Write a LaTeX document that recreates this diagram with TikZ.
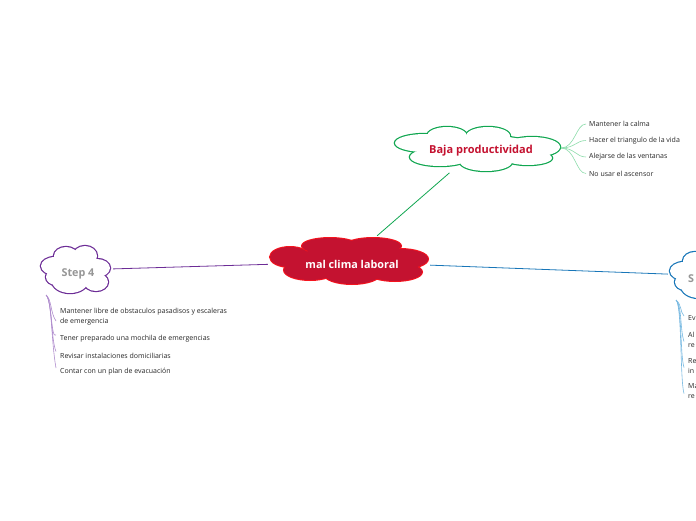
\documentclass[tikz,border=0pt]{standalone}
\usepackage{fontspec}
\setmainfont{Open Sans}
\definecolor{cred}{RGB}{196,18,48}
\definecolor{credb}{RGB}{245,20,30}
\definecolor{cgreen}{RGB}{16,166,80}
\definecolor{lgreen}{RGB}{140,220,170}
\definecolor{cpurple}{RGB}{108,44,150}
\definecolor{lpurple}{RGB}{175,140,205}
\definecolor{cblue}{RGB}{24,118,184}
\definecolor{lblue}{RGB}{120,185,225}
\definecolor{cgray}{RGB}{150,150,150}
\newcommand\mkcloud[4]{%
  \foreach \cx/\cy/\ca/\cb in {#4}
    \draw[#1, line width=#3] (\cx,\cy) ellipse [x radius=\ca, y radius=\cb];
  \foreach \cx/\cy/\ca/\cb in {#4}
    \fill[#2] (\cx,\cy) ellipse [x radius=\ca, y radius=\cb];
}
\tikzset{
  item/.style={anchor=west, inner sep=0pt, font=\fontsize{7}{10}\selectfont, align=left, text=black!85},
  sub/.style={line width=0.6pt},
  title/.style={inner sep=0pt, font=\fontsize{10.8}{12}\selectfont\bfseries},
  hub/.style={inner sep=0pt, minimum size=0pt},
  main/.style={line width=0.8pt}
}
\begin{document}
\begin{tikzpicture}[x=1pt,y=-1pt]
\useasboundingbox (0,0) rectangle (696,520);
% central cloud
\mkcloud{credb}{cred}{2pt}{290/257/20/10, 330/246/28/8, 373/246/28/8, 400/259/28/10, 395/272/27/9, 352/274/28/10, 310/270/26/10, 350/262/60/15}
% green cloud
\mkcloud{cgreen}{white}{2.4pt}{425/143/30/9, 447/136/20/9, 488/136/22/9, 532/147/28/10, 440/157/30/9, 486/162/26/9, 528/158/24/7, 478/149/60/14}
% step 4 cloud
\mkcloud{cpurple}{white}{2.4pt}{55/266/14/9, 66/256/12/9, 85/256/12/10, 97/268/13/9, 96/282/12/9, 70/281/18/12, 56/277/10/8, 76/270/25/14}
% right cloud
\begin{scope}[shift={(629,5)}]
\mkcloud{cblue}{white}{2.4pt}{55/266/14/9, 66/256/12/9, 85/256/12/10, 97/268/13/9, 96/282/12/9, 70/281/18/12, 56/277/10/8, 76/270/25/14}
\end{scope}
% hubs
\node[hub] (c) at (347,262) {};
\node[hub] (g) at (478,148) {};
\node[hub] (s4) at (76,270) {};
\node[hub] (r) at (705,275.5) {};
% titles
\node[title, text=white] (ct) at (352,264) {mal clima laboral};
\node[title, text=cred, font=\fontsize{11}{12}\selectfont\bfseries] (gt) at (481,151) {Baja productividad};
\node[title, text=cgray] (s4t) at (78,274) {Step 4};
\node[title, text=cgray, anchor=west] (rt) at (688,279) {S};
% main connectors
\draw[cgreen, main, shorten <=39.7pt, shorten >=37.6pt] (c) -- (g);
\draw[cpurple, main, shorten <=79pt, shorten >=37pt] (c) -- (s4);
\draw[cblue, main, shorten <=83pt, shorten >=37pt] (c) -- (r);
% green items
\coordinate (gs) at (561,148);
\node[item] (g1) at (589,124) {Mantener la calma};
\node[item] (g2) at (589,140.5) {Hacer el triangulo de la vida};
\node[item] (g3) at (589,157) {Alejarse de las ventanas};
\node[item] (g4) at (589,173.5) {No usar el ascensor};
\foreach \n in {g1,g2,g3,g4}
  \draw[lgreen, sub] (gs) .. controls +(14,0) and +(-10,0) .. ([xshift=-3pt]\n.west);
% step 4 items
\coordinate (ps) at (46,295);
\node[item] (p1) at (60,317) {Mantener libre de obstaculos pasadisos y escaleras\\de emergencia};
\node[item] (p2) at (60,339) {Tener preparado una mochila de emergencias};
\node[item] (p3) at (60,355.5) {Revisar instalaciones domiciliarias};
\node[item] (p4) at (60,372) {Contar con un plan de evacuación};
\draw[lpurple, sub] (ps) .. controls (52,300) and (50,312) .. ([xshift=-4pt,yshift=-4pt]p1.west);
\foreach \n in {p2,p3,p4}
  \draw[lpurple, sub] (ps) .. controls (52,300) and (51,340) .. ([xshift=-4pt,yshift=4pt]\n.west);
% right items
\coordinate (bs) at (676,300);
\node[item] (b1) at (688,318) {Ev};
\node[item] (b2) at (688,339.5) {Al\\re};
\node[item] (b3) at (688,365.5) {Re\\in};
\node[item] (b4) at (688,391.5) {Ma\\re};
\draw[lblue, sub] (bs) .. controls (682,305) and (680,312) .. ([xshift=-4pt,yshift=2pt]b1.west);
\draw[lblue, sub] (bs) .. controls (682,305) and (680,330) .. ([xshift=-4pt,yshift=-2pt]b2.west);
\draw[lblue, sub] (bs) .. controls (682,305) and (680,355) .. ([xshift=-4pt,yshift=-2pt]b3.west);
\draw[lblue, sub] (bs) .. controls (682,305) and (680,380) .. ([xshift=-4pt,yshift=-2pt]b4.west);
\end{tikzpicture}
\end{document}
